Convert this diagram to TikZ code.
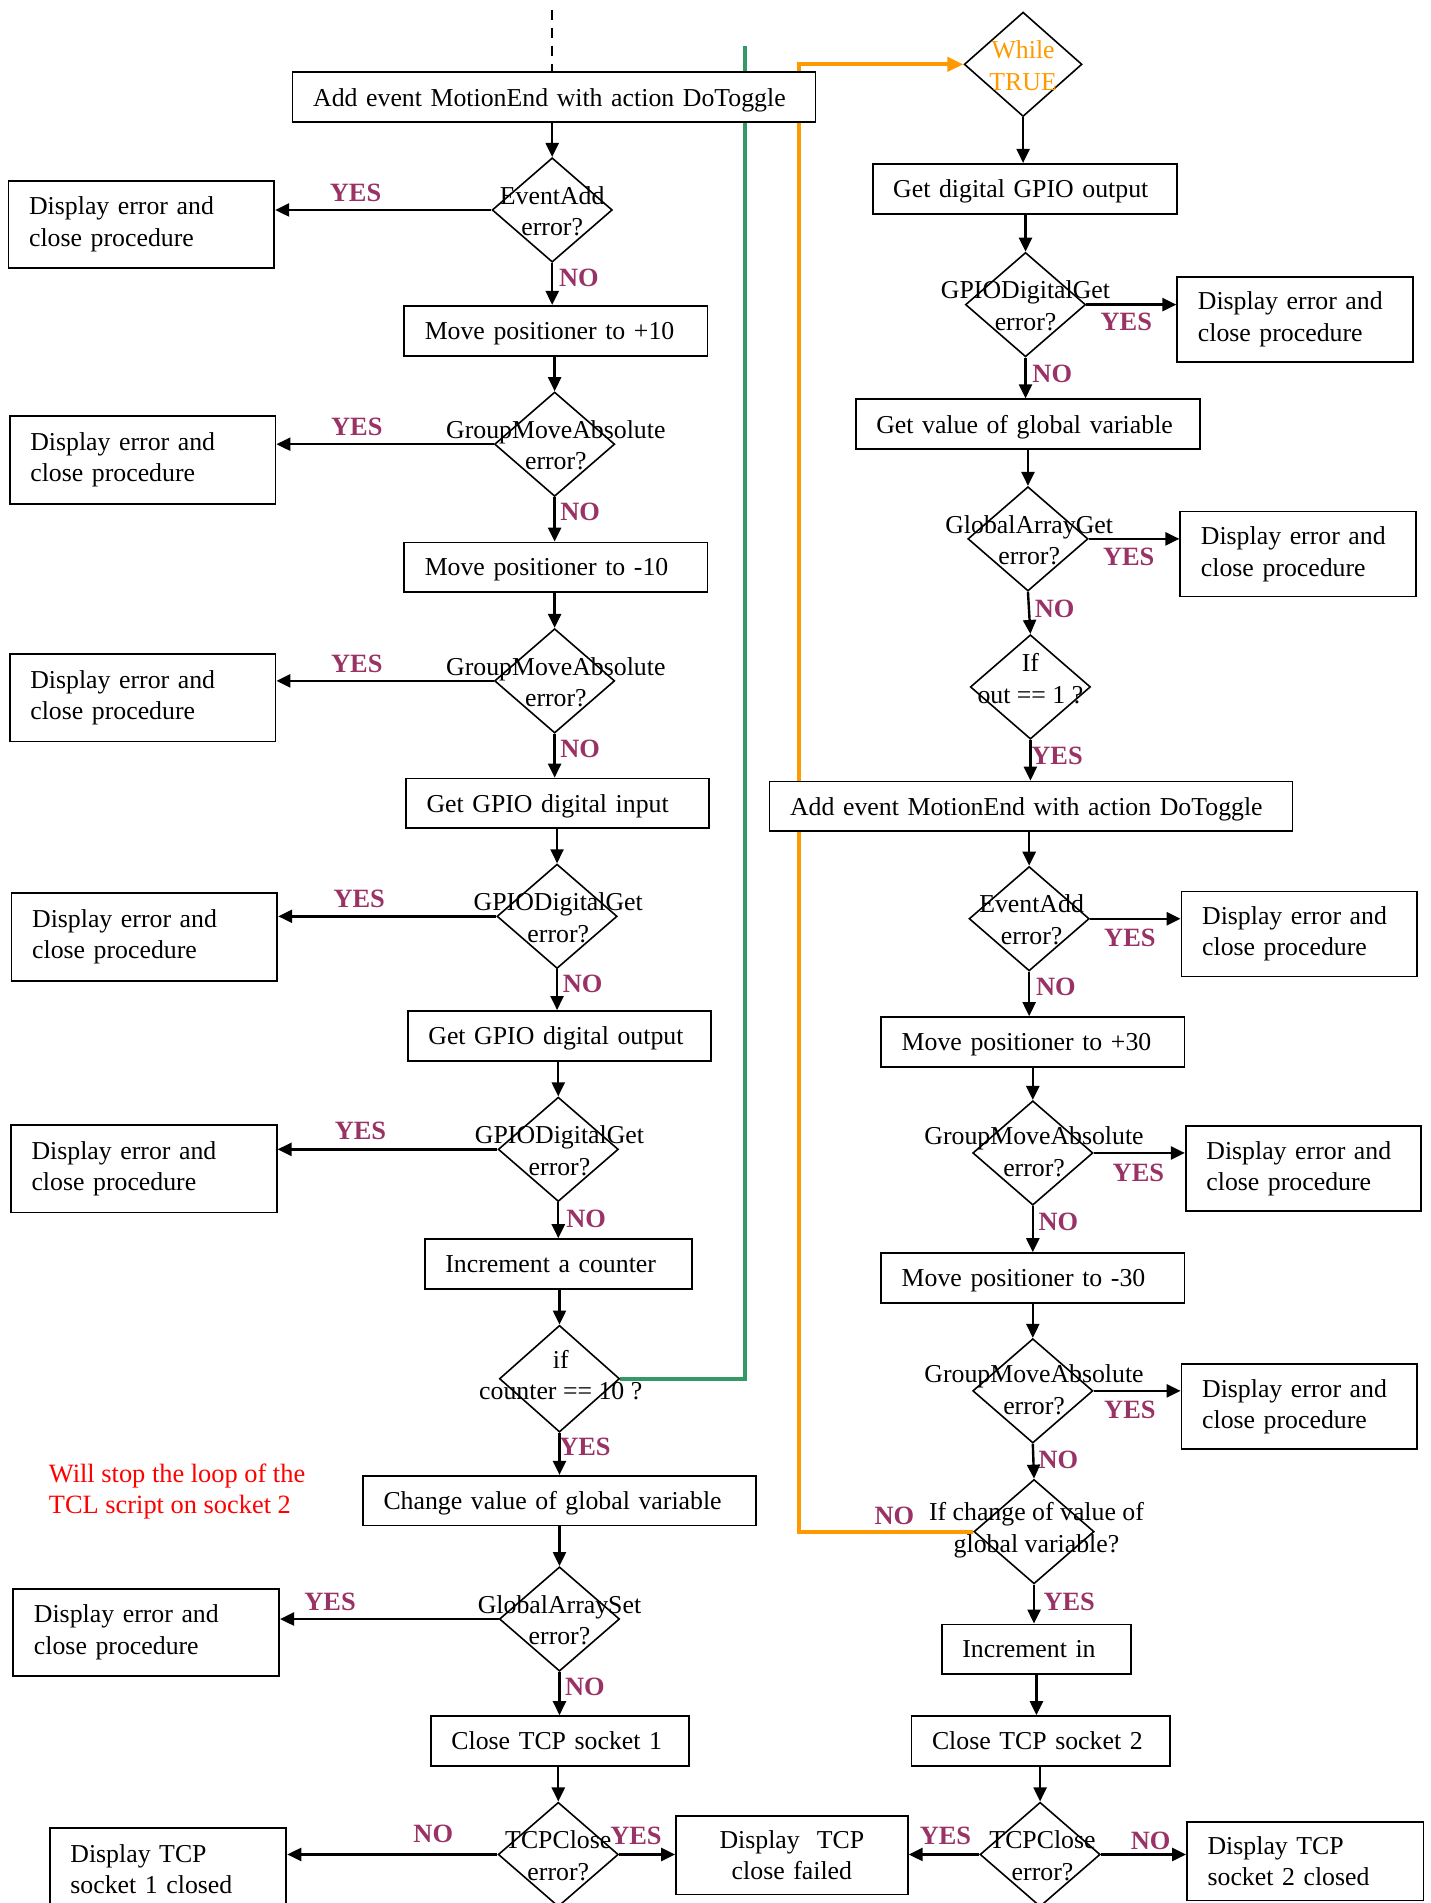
\documentclass[tikz,border=0pt]{standalone}
\usepackage{fontspec}
\setmainfont{Liberation Serif}
\usetikzlibrary{shapes.geometric, arrows.meta, backgrounds}
\definecolor{lbl}{RGB}{153,51,102}
\definecolor{org}{RGB}{255,153,0}
\definecolor{grn}{RGB}{51,153,102}
\begin{document}
\begin{tikzpicture}[x=0.60685pt, y=-0.60685pt,
  every node/.style={font=\fontsize{12.9pt}{15.8pt}\selectfont},
  bx/.style={draw, fill=white, line width=0.9pt, align=left, inner xsep=10.3pt, inner ysep=0pt, minimum height=24.9pt},
  sbx/.style={bx, text depth=0pt},
  ebox/.style={bx, minimum height=43.7pt, text width=112.3pt},
  rbox/.style={bx, minimum height=42.5pt, text width=97.1pt},
  dm/.style={draw, fill=white, diamond, line width=0.8pt, inner sep=0pt, minimum width=60.1pt, minimum height=52.2pt},
  dtext/.style={align=center, inner sep=0pt},
  yn/.style={text=lbl, font=\fontsize{13.2pt}{15.8pt}\selectfont\bfseries, inner sep=0pt},
  arr/.style={line width=1.2pt, -{Triangle[length=7pt,width=6.5pt]}},
]
\useasboundingbox (0,0) rectangle (1179,1568);
\clip (0,0) rectangle (1179,1568);

% ---------- left column ----------
\node[sbx, text width=240.9pt] (a1) at (456.5,80) {\mbox{Add event MotionEnd with action DoToggle}};
\node[dm] (d1) at (455,173) {};
\node[dtext] (d1t) at (455,174) {EventAdd\\error?};
\node[ebox] (e1) at (116.5,185) {Display error and\\close procedure};
\node[sbx, text width=131.1pt] (b2) at (458,272.5) {\mbox{Move positioner to +10}};
\node[dm] (d2) at (457,366) {};
\node[dtext] (d2t) at (458,367) {GroupMoveAbsolute\\error?};
\node[ebox] (e2) at (117.5,379) {Display error and\\close procedure};
\node[sbx, text width=131.1pt] (b3) at (458,467.5) {\mbox{Move positioner to -10}};
\node[dm] (d3) at (457,561) {};
\node[dtext] (d3t) at (458,562) {GroupMoveAbsolute\\error?};
\node[ebox] (e3) at (117.5,575) {Display error and\\close procedure};
\node[sbx, text width=131.1pt] (b4) at (459.5,662) {\mbox{Get GPIO digital input}};
\node[dm] (d4) at (459,755) {};
\node[dtext] (d4t) at (460,756) {GPIODigitalGet\\error?};
\node[ebox] (e4) at (119,772) {Display error and\\close procedure};
\node[sbx, text width=131.1pt] (b5) at (461,853.5) {\mbox{Get GPIO digital output}};
\node[dm] (d5) at (460,947) {};
\node[dtext] (d5t) at (461,948) {GPIODigitalGet\\error?};
\node[ebox] (e5) at (118.5,963) {Display error and\\close procedure};
\node[sbx, text width=112.9pt] (b6) at (460,1041.5) {\mbox{Increment a counter}};
\node[dm, minimum height=53.4pt] (d6) at (461,1136) {};
\node[dtext] (d6t) at (462,1133) {if\\counter == 10 ?};
\node[sbx, text width=176pt] (b7) at (461,1236.5) {\mbox{Change value of global variable}};
\node[anchor=west, align=left, text=red, inner sep=0pt, font=\fontsize{13.2pt}{15.8pt}\selectfont] (note) at (40,1229) {Will stop the loop of the\\TCL script on socket 2};
\node[dm] (d7) at (461,1334) {};
\node[dtext] (d7t) at (461,1335) {GlobalArraySet\\error?};
\node[ebox] (e7) at (120.5,1345) {Display error and\\close procedure};
\node[sbx, text width=108.7pt] (b8) at (461.5,1434.5) {\mbox{Close TCP socket 1}};
\node[dm] (d8) at (460,1528) {};
\node[dtext] (d8t) at (460,1529) {TCPClose\\error?};
\node[bx, minimum height=41.3pt, text width=97.7pt] (f1) at (138.5,1540) {Display TCP\\socket 1 closed};
\node[bx, align=center, minimum height=39.4pt, text width=95.3pt] (f2) at (652.5,1528.5) {Display~ TCP\\close failed};

% ---------- right column ----------
\node[dm, minimum width=58.9pt] (w) at (843,53) {};
\node[dtext, text=org] (wt) at (843,54) {While\\TRUE};
\node[sbx, text width=131.7pt] (b9) at (844.5,155.5) {\mbox{Get digital GPIO output}};
\node[dm] (d9) at (845,251) {};
\node[dtext] (d9t) at (845,252) {GPIODigitalGet\\error?};
\node[rbox] (e9) at (1067,263) {Display error and\\close procedure};
\node[sbx, text width=151.7pt] (b10) at (847,349.5) {\mbox{Get value of global variable}};
\node[dm] (d10) at (847,444) {};
\node[dtext] (d10t) at (848,445) {GlobalArrayGet\\error?};
\node[rbox] (e10) at (1069.5,456.5) {Display error and\\close procedure};
\node[dm] (d11) at (849,566) {};
\node[dtext] (d11t) at (849,559) {If\\out == 1 ?};
\node[sbx, text width=240.9pt] (b11) at (849.5,664.5) {\mbox{Add event MotionEnd with action DoToggle}};
\node[dm] (d12) at (848,757) {};
\node[dtext] (d12t) at (850,758) {EventAdd\\error?};
\node[rbox] (e12) at (1070.5,769.5) {Display error and\\close procedure};
\node[sbx, text width=131.1pt] (b12) at (851,858.5) {\mbox{Move positioner to +30}};
\node[dm] (d13) at (851,950) {};
\node[dtext] (d13t) at (852,949) {GroupMoveAbsolute\\error?};
\node[rbox] (e13) at (1074,963) {Display error and\\close procedure};
\node[sbx, text width=131.1pt] (b13) at (851,1053) {\mbox{Move positioner to -30}};
\node[dm] (d14) at (851,1146) {};
\node[dtext] (d14t) at (852,1145) {GroupMoveAbsolute\\error?};
\node[rbox] (e14) at (1070.5,1159) {Display error and\\close procedure};
\node[dm] (d15) at (852,1262) {};
\node[dtext] (d15t) at (854,1261) {If change of value of\\global variable?};
\node[sbx, text width=74.1pt] (b14) at (854,1359) {\mbox{Increment in}};
\node[sbx, text width=108.7pt] (b15) at (857.5,1434.5) {\mbox{Close TCP socket 2}};
\node[dm] (d16) at (857,1528) {};
\node[dtext] (d16t) at (859,1529) {TCPClose\\error?};
\node[bx, minimum height=39.4pt, text width=97.7pt] (f3) at (1075.5,1533.5) {Display TCP\\socket 2 closed};

% ---------- YES / NO labels ----------
\node[yn] (y1) at (293,159) {YES};   \node[yn] (n1) at (477,229) {NO};
\node[yn] (y2) at (294,352) {YES};   \node[yn] (n2) at (478,422) {NO};
\node[yn] (y3) at (294,547) {YES};   \node[yn] (n3) at (478,617) {NO};
\node[yn] (y4) at (296,741) {YES};   \node[yn] (n4) at (480,811) {NO};
\node[yn] (y5) at (297,932) {YES};   \node[yn] (n5) at (483,1004) {NO};
\node[yn] (y6) at (482,1192) {YES};
\node[yn] (y7) at (272,1320) {YES};  \node[yn] (n7) at (482,1390) {NO};
\node[yn] (n8) at (357,1511) {NO};   \node[yn] (y8) at (524,1513) {YES};
\node[yn] (y9) at (928,265) {YES};   \node[yn] (n9) at (867,308) {NO};
\node[yn] (y10) at (930,459) {YES};  \node[yn] (n10) at (869,502) {NO};
\node[yn] (y11) at (871,623) {YES};
\node[yn] (y12) at (931,773) {YES};  \node[yn] (n12) at (870,813) {NO};
\node[yn] (y13) at (938,966) {YES};  \node[yn] (n13) at (872,1007) {NO};
\node[yn] (y14) at (931,1162) {YES}; \node[yn] (n14) at (872,1203) {NO};
\node[yn] (n15) at (737,1249) {NO};  \node[yn] (y15) at (881,1320) {YES};
\node[yn] (y16) at (779,1513) {YES}; \node[yn] (n16) at (948,1517) {NO};

% ---------- loop lines (behind boxes) ----------
\coordinate (gtop) at (614,38);
\coordinate (ocol) at (658,0);
\coordinate (dtop) at (455,8);
\begin{pgfonlayer}{background}
\draw[grn, line width=2pt] (d6.east) -| (gtop);
\draw[org, line width=2pt, -{Triangle[length=8pt,width=7pt]}] (d15.west) -| (ocol |- w.west) -- (w.west);
\end{pgfonlayer}

% ---------- connectors ----------
\draw[line width=0.9pt, dash pattern=on 5pt off 4pt] (dtop) -- (dtop |- a1.north);
\draw[arr] (d1.north |- a1.south) -- (d1.north);
\draw[arr] (d1.west) -- (d1.west -| e1.east);
\draw[arr] (d1.south) -- (d1.south |- b2.north);
\draw[arr] (d2.north |- b2.south) -- (d2.north);
\draw[arr] (d2.west) -- (d2.west -| e2.east);
\draw[arr] (d2.south) -- (d2.south |- b3.north);
\draw[arr] (d3.north |- b3.south) -- (d3.north);
\draw[arr] (d3.west) -- (d3.west -| e3.east);
\draw[arr] (d3.south) -- (d3.south |- b4.north);
\draw[arr] (d4.north |- b4.south) -- (d4.north);
\draw[arr] (d4.west) -- (d4.west -| e4.east);
\draw[arr] (d4.south) -- (d4.south |- b5.north);
\draw[arr] (d5.north |- b5.south) -- (d5.north);
\draw[arr] (d5.west) -- (d5.west -| e5.east);
\draw[arr] (d5.south) -- (d5.south |- b6.north);
\draw[arr] (d6.north |- b6.south) -- (d6.north);
\draw[arr] (d6.south) -- (d6.south |- b7.north);
\draw[arr] (d7.north |- b7.south) -- (d7.north);
\draw[arr] (d7.west) -- (d7.west -| e7.east);
\draw[arr] (d7.south) -- (d7.south |- b8.north);
\draw[arr] (d8.north |- b8.south) -- (d8.north);
\draw[arr] (d8.west) -- (d8.west -| f1.east);
\draw[arr] (d8.east) -- (d8.east -| f2.west);

\draw[arr] (w.south) -- (w.south |- b9.north);
\draw[arr] (d9.north |- b9.south) -- (d9.north);
\draw[arr] (d9.east) -- (d9.east -| e9.west);
\draw[arr] (d9.south) -- (d9.south |- b10.north);
\draw[arr] (d10.north |- b10.south) -- (d10.north);
\draw[arr] (d10.east) -- (d10.east -| e10.west);
\draw[arr] (d10.south) -- (d11.north);
\draw[arr] (d11.south) -- (d11.south |- b11.north);
\draw[arr] (d12.north |- b11.south) -- (d12.north);
\draw[arr] (d12.east) -- (d12.east -| e12.west);
\draw[arr] (d12.south) -- (d12.south |- b12.north);
\draw[arr] (d13.north |- b12.south) -- (d13.north);
\draw[arr] (d13.east) -- (d13.east -| e13.west);
\draw[arr] (d13.south) -- (d13.south |- b13.north);
\draw[arr] (d14.north |- b13.south) -- (d14.north);
\draw[arr] (d14.east) -- (d14.east -| e14.west);
\draw[arr] (d14.south) -- (d15.north);
\draw[arr] (d15.south) -- (d15.south |- b14.north);
\draw[arr] (b14.south) -- (b14.south |- b15.north);
\draw[arr] (d16.north |- b15.south) -- (d16.north);
\draw[arr] (d16.west) -- (d16.west -| f2.east);
\draw[arr] (d16.east) -- (d16.east -| f3.west);
\end{tikzpicture}
\end{document}
